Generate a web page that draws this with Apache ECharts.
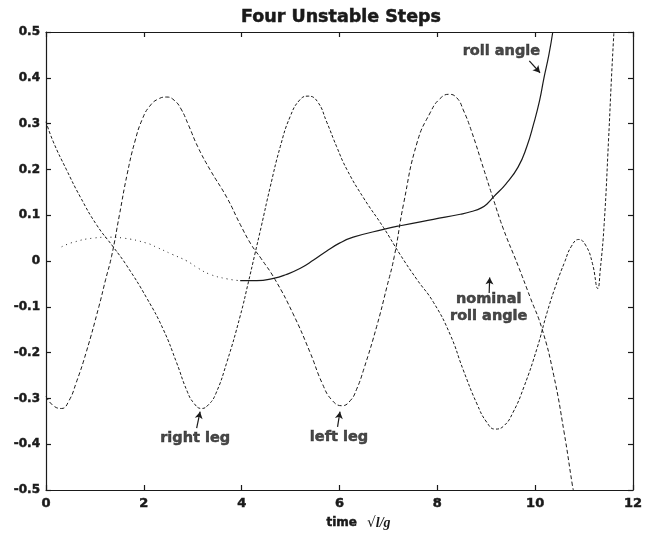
<!DOCTYPE html>
<html>
<head>
<meta charset="utf-8">
<script src="https://cdn.jsdelivr.net/npm/echarts@6/dist/echarts.min.js"></script>
<style>
html,body{margin:0;padding:0;background:#fff;}
#chart{width:647px;height:535px;}
</style>
</head>
<body>
<div id="chart"></div>
<script>
// ---- data ----
const xTicks = [0, 2, 4, 6, 8, 10, 12];
const yTicks = [-0.5, -0.4, -0.3, -0.2, -0.1, 0, 0.1, 0.2, 0.3, 0.4, 0.5];

const leftLeg = [
  [0,-0.296],[0.15,-0.316],[0.32,-0.322],[0.47,-0.305],[0.62,-0.265],[0.82,-0.2],[1.08,-0.1],
  [1.22,-0.04],[1.34,0.01],[1.5,0.1],[1.66,0.19],[1.82,0.262],[1.97,0.31],[2.12,0.338],[2.3,0.354],
  [2.47,0.358],[2.62,0.351],[2.76,0.332],[2.92,0.295],[3.1,0.25],[3.35,0.2],[3.7,0.138],
  [3.97,0.08],[4.2,0.035],[4.4,0.005],[4.68,-0.04],[5.05,-0.115],[5.4,-0.2],[5.65,-0.268],
  [5.84,-0.303],[6.05,-0.316],[6.22,-0.305],[6.35,-0.28],[6.5,-0.235],[6.76,-0.143],
  [6.97,-0.056],[7.12,0.01],[7.31,0.125],[7.59,0.26],[7.86,0.325],[8.05,0.354],[8.24,0.364],
  [8.4,0.356],[8.53,0.33],[8.7,0.283],[8.95,0.2],[9.13,0.14],[9.35,0.07],[9.65,-0.01],
  [9.9,-0.08],[10.14,-0.148],[10.38,-0.25],[10.59,-0.373],[10.76,-0.489],[10.78,-0.5]
];

const rightLeg = [
  [0,0.304],[0.15,0.26],[0.42,0.199],[0.7,0.14],[1.04,0.078],[1.38,0.03],[1.65,-0.01],
  [2.06,-0.081],[2.4,-0.15],[2.67,-0.222],[2.88,-0.283],[3.02,-0.31],[3.18,-0.322],
  [3.32,-0.314],[3.47,-0.29],[3.7,-0.22],[3.97,-0.12],[4.14,-0.045],[4.27,0.015],[4.4,0.075],
  [4.58,0.16],[4.79,0.25],[4.99,0.315],[5.19,0.352],[5.36,0.36],[5.55,0.348],[5.74,0.303],
  [5.94,0.25],[6.15,0.2],[6.49,0.138],[6.9,0.073],[7.24,0.014],[7.58,-0.04],[7.92,-0.09],
  [8.26,-0.16],[8.53,-0.238],[8.81,-0.312],[9.01,-0.352],[9.18,-0.367],[9.36,-0.36],
  [9.55,-0.33],[9.77,-0.275],[10.04,-0.19],[10.25,-0.11],[10.45,-0.045],[10.6,-0.003],
  [10.74,0.032],[10.89,0.047],[11.04,0.033],[11.17,-0.005],[11.28,-0.06],[11.33,-0.02],
  [11.41,0.08],[11.5,0.264],[11.56,0.4],[11.61,0.5]
];

const rollAngleDotted = [
  [0.32,0.031],[0.56,0.041],[0.97,0.05],[1.3,0.052],[1.58,0.05],[2.06,0.039],[2.26,0.03],
  [2.57,0.015],[2.88,0.0],[3.1,-0.015],[3.35,-0.029],[3.7,-0.039],[3.97,-0.043]
];

const rollAngle = [
  [3.97,-0.043],[4.31,-0.043],[4.65,-0.038],[4.9,-0.03],[5.2,-0.016],[5.47,0.002],
  [5.74,0.022],[6.0,0.039],[6.28,0.052],[6.9,0.069],[7.24,0.077],[7.92,0.091],[8.47,0.102],
  [8.7,0.108],[8.9,0.116],[9.03,0.126],[9.15,0.14],[9.4,0.168],[9.65,0.205],[9.83,0.25],
  [9.97,0.3],[10.09,0.35],[10.18,0.4],[10.28,0.45],[10.36,0.5]
];

// annotation texts [x, y, text]
const labels = [
  [9.31, 0.457, 'roll angle'],
  [3.05, -0.387, 'right leg'],
  [5.99, -0.384, 'left leg'],
  [9.05, -0.103, 'nominal\nroll angle']
];
// annotation arrows [x1, y1, x2, y2] (tail -> head)
const arrows = [
  [9.88, 0.437, 10.1, 0.411],
  [3.08, -0.365, 3.15, -0.329],
  [5.96, -0.362, 6.01, -0.329],
  [9.06, -0.07, 9.07, -0.036]
];

// ---- chart ----
const ink = '#1a1a1a';
const FONT = '"DejaVu Sans", Lato, sans-serif';

const chart = echarts.init(document.getElementById('chart'), null, {renderer: 'canvas'});

function fmtY(v) {
  if (Math.abs(v) < 1e-9) return '0';
  return (Math.round(v * 10) / 10).toFixed(1);
}

const axisCommon = {
  type: 'value',
  axisLine: {show: true, onZero: false, lineStyle: {color: ink, width: 1.2}},
  axisTick: {show: true, inside: true, length: 5, lineStyle: {color: ink, width: 1.2}},
  splitLine: {show: false}
};

const heavy = {textBorderColor: ink, textBorderWidth: 0.5};

const option = {
  backgroundColor: '#fff',
  animation: false,
  title: {
    text: 'Four Unstable Steps',
    left: 236, top: 3,
    textStyle: Object.assign({fontFamily: FONT, fontWeight: 'bold', fontSize: 17.5, color: ink}, heavy)
  },
  grid: {left: 46, right: 14, top: 32, bottom: 45, containLabel: false},
  xAxis: [
    Object.assign({}, axisCommon, {
      min: 0, max: 12, interval: 2, position: 'bottom',
      axisLabel: Object.assign({show: true, margin: 7, color: ink, fontFamily: FONT, fontWeight: 'bold', fontSize: 13,
        formatter: v => xTicks.indexOf(v) >= 0 ? String(v) : ''}, heavy),
      name: '{t|time}   {s|√}{v|l/g}',
      nameLocation: 'middle', nameGap: 26,
      nameTextStyle: {padding: [0, 0, 0, 38],
        rich: {
          t: Object.assign({fontFamily: FONT, fontWeight: 'bold', fontSize: 12, color: ink}, heavy),
          s: {fontFamily: '"DejaVu Sans"', fontSize: 14, color: ink},
          v: {fontFamily: '"Liberation Serif", serif', fontStyle: 'italic', fontWeight: 'bold', fontSize: 14, color: ink}
        }}
    }),
    Object.assign({}, axisCommon, {
      min: 0, max: 12, interval: 2, position: 'top',
      axisLabel: {show: false}
    })
  ],
  yAxis: [
    Object.assign({}, axisCommon, {
      min: -0.5, max: 0.5, interval: 0.1, position: 'left',
      axisLabel: Object.assign({show: true, margin: 6, color: ink, fontFamily: FONT, fontWeight: 'bold', fontSize: 12,
        formatter: fmtY}, heavy)
    }),
    Object.assign({}, axisCommon, {
      min: -0.5, max: 0.5, interval: 0.1, position: 'right',
      axisLabel: {show: false}
    })
  ],
  series: [
    {
      name: 'left leg', type: 'line', data: leftLeg, smooth: 0.5,
      showSymbol: false, symbol: 'none', silent: true, clip: true,
      lineStyle: {color: ink, width: 1, type: [4, 2.5]}
    },
    {
      name: 'right leg', type: 'line', data: rightLeg, smooth: 0.5,
      showSymbol: false, symbol: 'none', silent: true, clip: true,
      lineStyle: {color: ink, width: 1, type: [3, 2]}
    },
    {
      name: 'roll angle (dotted)', type: 'line', data: rollAngleDotted, smooth: 0.5,
      showSymbol: false, symbol: 'none', silent: true,
      lineStyle: {color: ink, width: 1, type: [1, 4]}
    },
    {
      name: 'roll angle', type: 'line', data: rollAngle, smooth: 0.5,
      showSymbol: false, symbol: 'none', silent: true, clip: true,
      lineStyle: {color: ink, width: 1.2, type: 'solid'},
      markLine: {
        silent: true, symbol: ['none', 'arrow'], symbolSize: [6, 7],
        label: {show: false},
        lineStyle: {color: ink, width: 1.2, type: 'solid'},
        data: arrows.map(a => [{coord: [a[0], a[1]]}, {coord: [a[2], a[3]]}])
      }
    },
    {
      name: 'labels', type: 'scatter', silent: true, symbolSize: 0,
      data: labels.map(l => ({value: [l[0], l[1]], name: l[2]})),
      label: Object.assign({
        show: true, position: 'inside', formatter: p => p.name,
        fontFamily: FONT, fontWeight: 'bold', fontSize: 14.5, lineHeight: 17, color: ink, align: 'center'
      }, heavy)
    }
  ]
};

chart.setOption(option);
</script>
</body>
</html>
